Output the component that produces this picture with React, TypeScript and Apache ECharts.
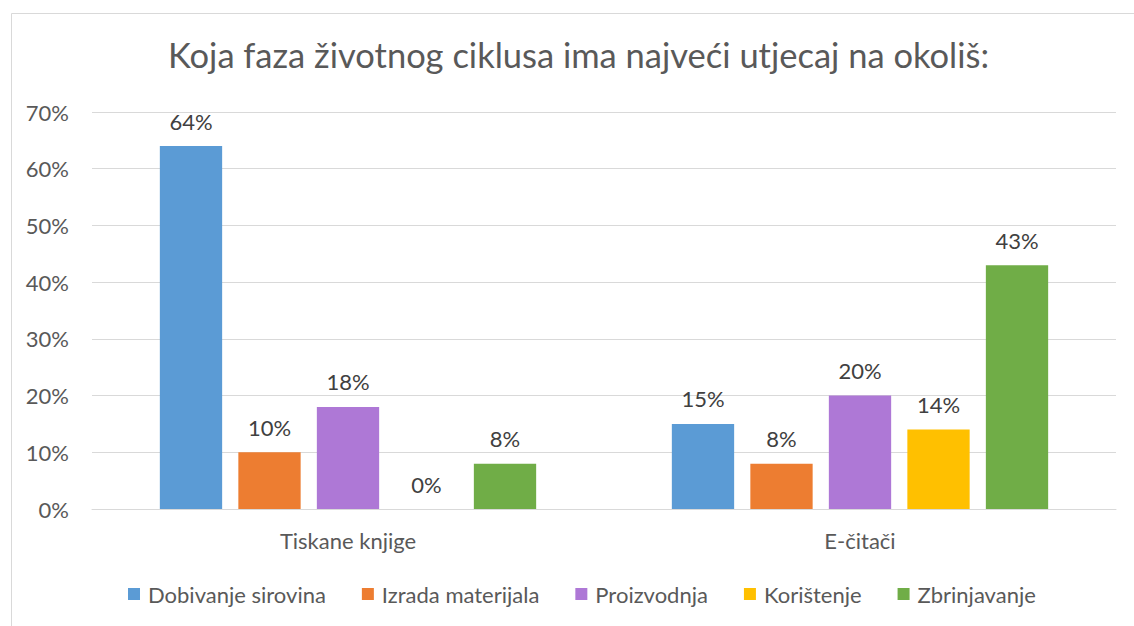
import React, { useEffect, useRef } from "react";
import * as echarts from "echarts";

const categories = ["Tiskane knjige", "E-čitači"];
const seriesNames = ["Dobivanje sirovina", "Izrada materijala", "Proizvodnja", "Korištenje", "Zbrinjavanje"];
const dobivanje = [64, 15];
const izrada = [10, 8];
const proizvodnja = [18, 20];
const koristenje = [0, 14];
const zbrinjavanje = [8, 43];
const colors = ["#5B9BD5", "#ED7D31", "#AE78D6", "#FFC000", "#70AD47"];
const titleText = "Koja faza životnog ciklusa ima najveći utjecaj na okoliš:";

const FONT = "Lato";
const SMALL = 22;

export default function App() {
  const ref = useRef<HTMLDivElement>(null);
  useEffect(() => {
    const chart = echarts.init(ref.current!, null, { renderer: "svg" });
    const values = [dobivanje, izrada, proizvodnja, koristenje, zbrinjavanje];
    chart.setOption({
      animation: false,
      backgroundColor: "#ffffff",
      textStyle: { fontFamily: FONT },
      title: {
        text: titleText,
        left: 163,
        top: 32,
        textStyle: { fontFamily: FONT, fontSize: 34.5, fontWeight: "normal", color: "#595959" },
      },
      graphic: [
        {
          type: "rect",
          shape: { x: 11.5, y: 13.5, width: 1130, height: 620 },
          style: { fill: "none", stroke: "#D9D9D9", lineWidth: 1 },
          silent: true,
        },
      ],
      legend: {
        top: 578,
        left: 123,
        itemWidth: 12,
        itemHeight: 12,
        itemGap: 36,
        icon: "rect",
        textStyle: { fontFamily: FONT, fontSize: SMALL, color: "#595959", padding: [0, 0, 0, 3] },
        data: seriesNames,
      },
      grid: { left: 92, right: 18, top: 112, bottom: 117, containLabel: false },
      xAxis: {
        type: "category",
        data: categories,
        axisLine: { lineStyle: { color: "#D9D9D9", width: 1 } },
        axisTick: { show: false },
        axisLabel: { fontFamily: FONT, fontSize: SMALL, color: "#595959", margin: 20 },
      },
      yAxis: {
        type: "value",
        min: 0,
        max: 70,
        interval: 10,
        axisLine: { show: false },
        axisTick: { show: false },
        splitLine: { lineStyle: { color: "#D9D9D9", width: 1 } },
        axisLabel: { formatter: "{value}%", fontFamily: FONT, fontSize: SMALL, color: "#595959", margin: 23 },
      },
      series: seriesNames.map((name, i) => ({
        name,
        type: "bar",
        data: values[i],
        barGap: "26%",
        barCategoryGap: "26.5%",
        itemStyle: { color: colors[i] },
        label: {
          show: true,
          position: "top",
          distance: 14,
          formatter: "{c}%",
          fontFamily: FONT,
          fontSize: SMALL,
          color: "#404040",
        },
      })),
    });
    return () => chart.dispose();
  }, []);
  return <div ref={ref} style={{ position: "fixed", left: 0, top: 0, width: 1134, height: 626 }} />;
}
